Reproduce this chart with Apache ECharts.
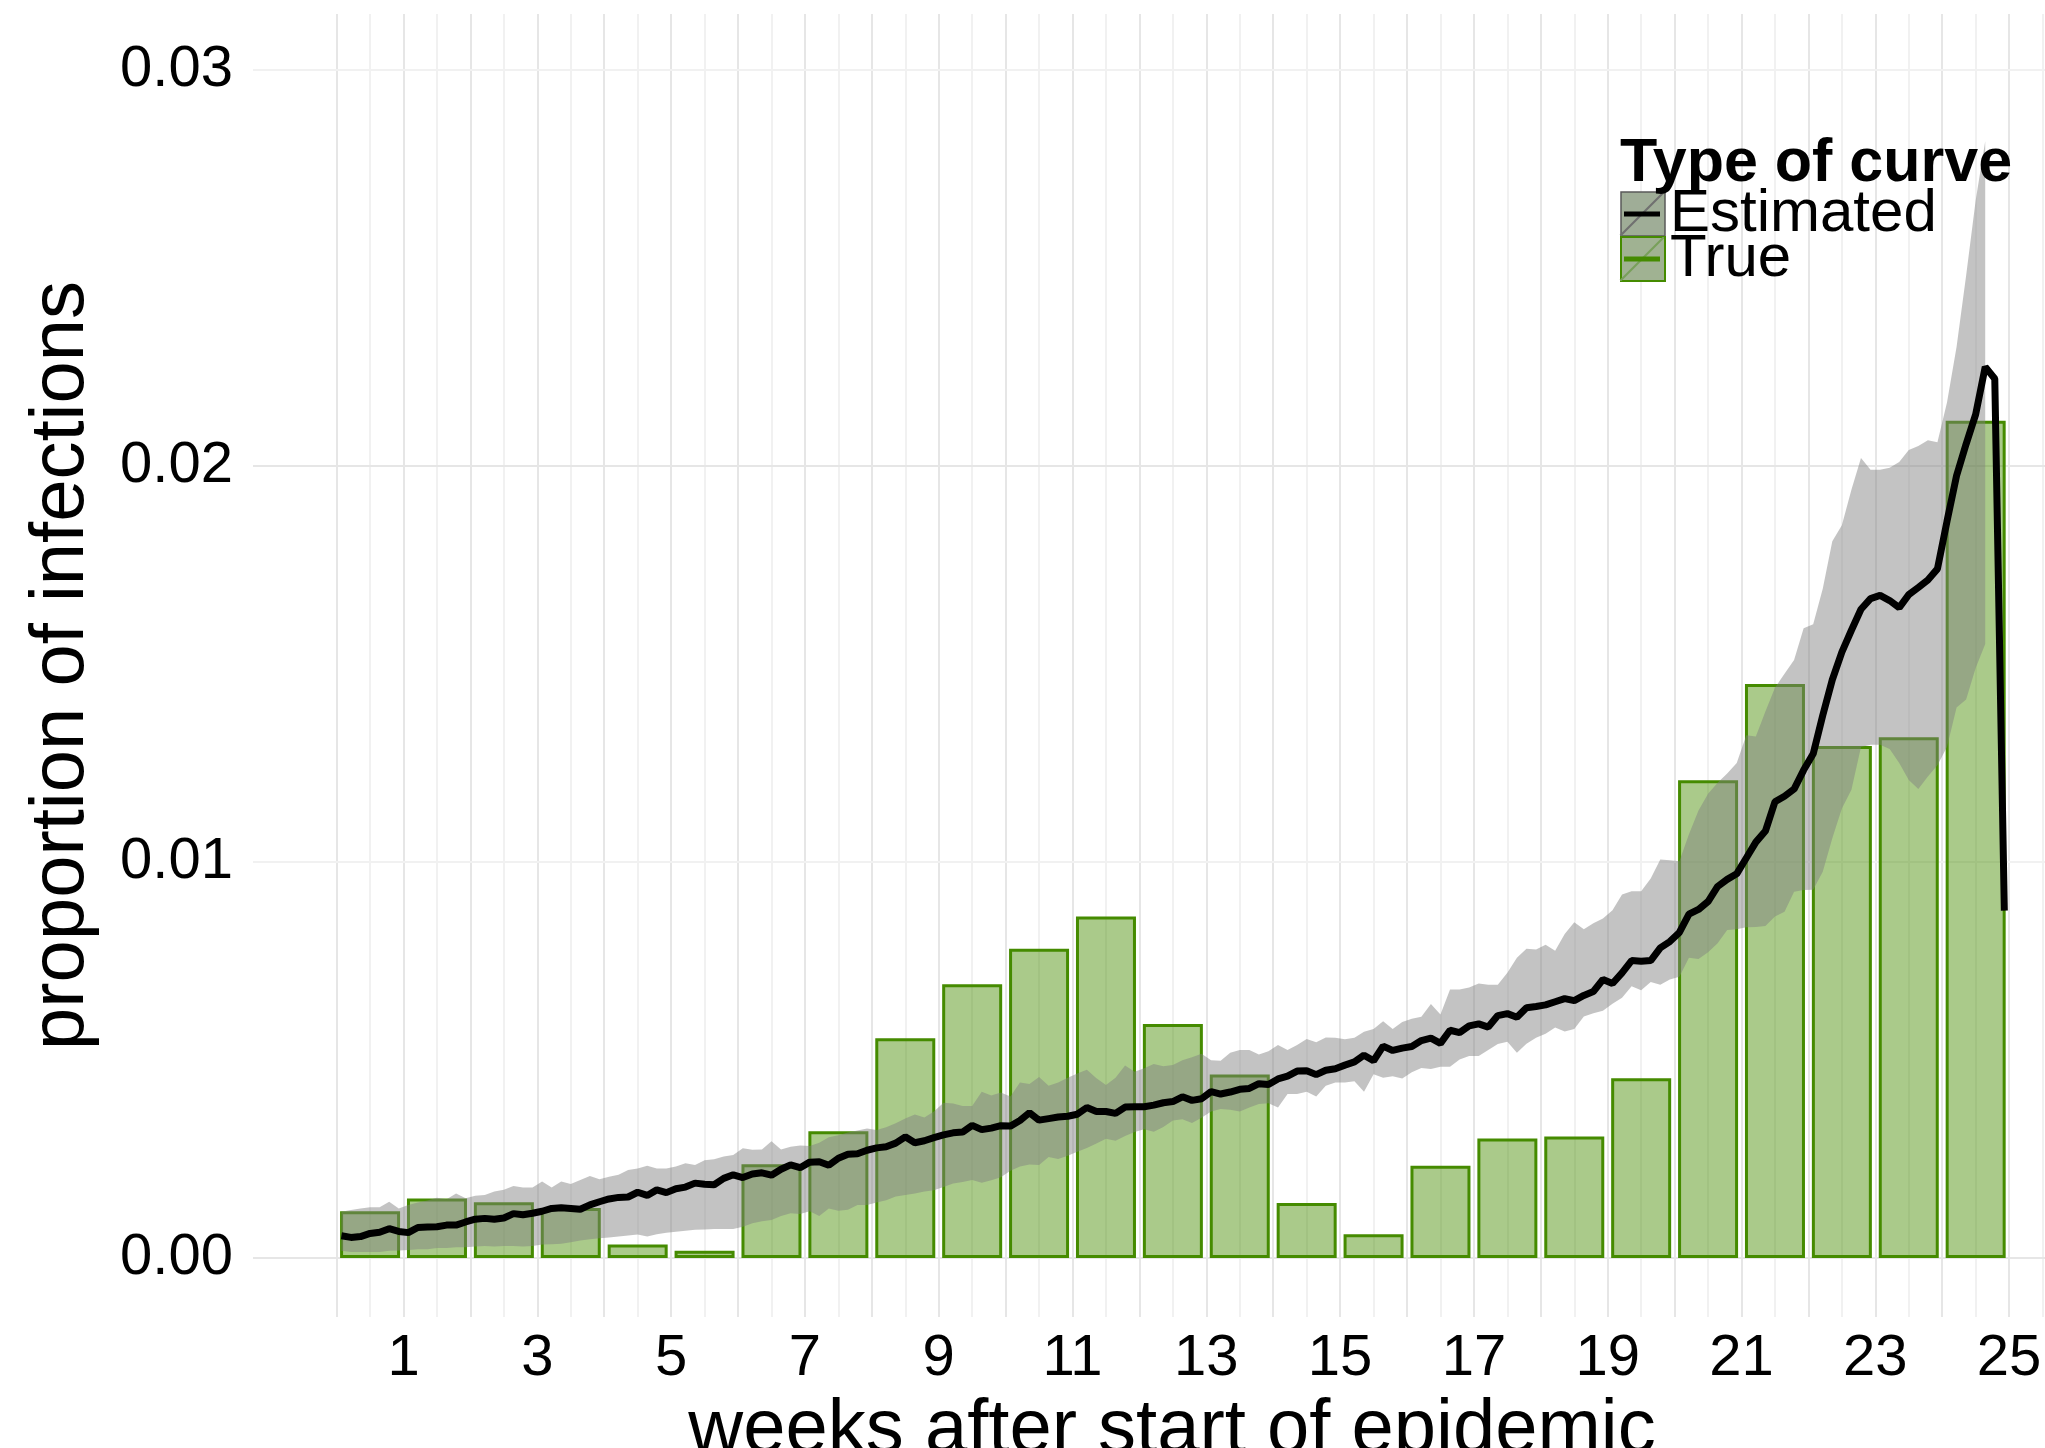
<!DOCTYPE html>
<html>
<head>
<meta charset="utf-8">
<title>Type of curve</title>
<script src="https://cdn.jsdelivr.net/npm/echarts@6/dist/echarts.min.js"></script>
<style>
  html, body { margin: 0; padding: 0; background: #ffffff; }
  #chart { width: 2045px; height: 1448px; }
</style>
</head>
<body>
<div id="chart"></div>
<script>
const FONT = '"Liberation Sans", Arial, Helvetica, sans-serif';

//weekly true proportions (x 1e-3), bar for week w sits at w - 0.5
const trueWeeks = [1, 2, 3, 4, 5, 6, 7, 8, 9, 10, 11, 12, 13, 14, 15, 16, 17, 18, 19, 20, 21, 22, 23, 24, 25];
const trueProp = [1.18, 1.50, 1.41, 1.26, 0.34, 0.18, 2.37, 3.20, 5.55, 6.91, 7.81, 8.62, 5.91, 4.63, 1.39,
    0.60, 2.33, 3.02, 3.07, 4.54, 12.06, 14.49, 12.93, 13.15, 21.14];

//daily estimate (x 1e-3), day d is drawn at week (d + 0.5) / 7
const estMean = [
    0.56, 0.52, 0.54, 0.62, 0.65, 0.74, 0.67, 0.64, 0.77, 0.78,
    0.79, 0.83, 0.83, 0.91, 0.98, 1.00, 0.98, 1.01, 1.12, 1.09,
    1.13, 1.18, 1.25, 1.27, 1.25, 1.23, 1.34, 1.42, 1.49, 1.53,
    1.54, 1.66, 1.58, 1.72, 1.65, 1.75, 1.79, 1.89, 1.86, 1.85,
    2.01, 2.10, 2.03, 2.12, 2.15, 2.09, 2.24, 2.35, 2.28, 2.42,
    2.43, 2.34, 2.52, 2.62, 2.63, 2.72, 2.78, 2.81, 2.90, 3.06,
    2.91, 2.96, 3.04, 3.11, 3.16, 3.18, 3.35, 3.24, 3.28, 3.34,
    3.33, 3.47, 3.67, 3.48, 3.52, 3.56, 3.58, 3.63, 3.80, 3.70,
    3.70, 3.65, 3.81, 3.82, 3.82, 3.86, 3.92, 3.95, 4.07, 3.98,
    4.02, 4.20, 4.14, 4.19, 4.26, 4.28, 4.40, 4.38, 4.52, 4.59,
    4.72, 4.73, 4.63, 4.74, 4.78, 4.87, 4.95, 5.12, 4.98, 5.35,
    5.24, 5.30, 5.34, 5.49, 5.55, 5.42, 5.75, 5.69, 5.86, 5.91,
    5.83, 6.12, 6.17, 6.08, 6.32, 6.35, 6.39, 6.47, 6.55, 6.50,
    6.63, 6.73, 7.03, 6.93, 7.20, 7.51, 7.49, 7.51, 7.83, 7.99,
    8.22, 8.68, 8.80, 9.00, 9.38, 9.56, 9.70, 10.10, 10.50, 10.78,
    11.52, 11.66, 11.84, 12.32, 12.73, 13.70, 14.60, 15.30, 15.85, 16.38,
    16.65, 16.73, 16.60, 16.42, 16.75, 16.93, 17.12, 17.40, 18.60, 19.75,
    20.55, 21.30, 22.50, 22.20, 8.77
];
const estUpper = [
    1.17, 1.21, 1.25, 1.28, 1.28, 1.42, 1.25, 1.34, 1.40, 1.45,
    1.52, 1.48, 1.63, 1.51, 1.57, 1.59, 1.68, 1.72, 1.82, 1.78,
    1.78, 1.93, 1.78, 1.93, 1.87, 1.97, 2.07, 1.99, 2.05, 2.10,
    2.22, 2.26, 2.33, 2.26, 2.26, 2.31, 2.39, 2.35, 2.47, 2.49,
    2.56, 2.60, 2.77, 2.73, 2.74, 2.95, 2.74, 2.81, 2.84, 2.83,
    2.91, 3.05, 3.10, 3.17, 3.22, 3.27, 3.23, 3.30, 3.40, 3.52,
    3.62, 3.55, 3.70, 3.92, 3.90, 3.84, 3.84, 4.20, 4.10, 4.18,
    4.08, 4.43, 4.39, 4.57, 4.35, 4.43, 4.55, 4.66, 4.75, 4.54,
    4.37, 4.55, 4.86, 4.70, 4.79, 4.90, 4.84, 4.87, 4.99, 5.07,
    5.16, 4.99, 4.98, 5.18, 5.25, 5.25, 5.14, 5.22, 5.38, 5.25,
    5.38, 5.53, 5.45, 5.57, 5.56, 5.52, 5.56, 5.71, 5.78, 5.98,
    5.78, 5.96, 6.04, 6.09, 6.41, 6.15, 6.78, 6.78, 6.83, 6.93,
    6.90, 6.90, 7.20, 7.58, 7.81, 7.79, 7.91, 7.76, 8.18, 8.48,
    8.30, 8.45, 8.57, 8.78, 9.18, 9.26, 9.26, 9.58, 10.06, 10.04,
    10.02, 10.70, 11.30, 11.72, 12.00, 12.23, 12.50, 13.20, 13.17, 13.80,
    14.40, 14.75, 15.10, 15.90, 16.00, 16.90, 18.10, 18.50, 19.40, 20.20,
    19.90, 19.90, 19.95, 20.10, 20.40, 20.50, 20.65, 20.60, 21.60, 23.00,
    24.80, 26.70, 28.20
];
const estLower = [
    0.18, 0.15, 0.15, 0.15, 0.15, 0.18, 0.19, 0.20, 0.22, 0.22,
    0.25, 0.25, 0.27, 0.27, 0.29, 0.30, 0.29, 0.30, 0.30, 0.29,
    0.30, 0.34, 0.35, 0.36, 0.40, 0.44, 0.47, 0.50, 0.52, 0.54,
    0.57, 0.59, 0.54, 0.60, 0.64, 0.66, 0.69, 0.71, 0.72, 0.73,
    0.73, 0.73, 0.79, 0.88, 0.93, 0.96, 1.06, 1.13, 1.11, 1.18,
    1.06, 1.25, 1.19, 1.22, 1.34, 1.34, 1.40, 1.46, 1.55, 1.59,
    1.63, 1.68, 1.71, 1.79, 1.88, 1.92, 1.97, 1.90, 1.96, 2.04,
    2.20, 2.31, 2.36, 2.35, 2.55, 2.50, 2.58, 2.68, 2.78, 2.89,
    3.01, 2.96, 3.08, 3.18, 3.25, 3.19, 3.31, 3.47, 3.50, 3.41,
    3.54, 3.70, 3.76, 3.74, 3.70, 3.80, 3.89, 3.91, 3.80, 4.14,
    4.14, 4.20, 4.08, 4.35, 4.43, 4.43, 4.46, 4.20, 4.64, 4.55,
    4.59, 4.53, 4.69, 4.80, 4.77, 4.83, 4.83, 5.01, 5.10, 5.10,
    5.25, 5.40, 5.46, 5.18, 5.41, 5.56, 5.66, 5.82, 5.72, 5.78,
    6.10, 6.18, 6.24, 6.42, 6.57, 6.86, 6.76, 6.97, 6.90, 7.03,
    7.10, 7.58, 7.55, 7.72, 7.95, 8.28, 8.30, 8.35, 8.36, 8.38,
    8.62, 8.74, 9.25, 9.29, 9.30, 9.75, 10.60, 11.35, 11.82, 12.90,
    12.96, 12.96, 12.85, 12.50, 12.07, 11.84, 12.16, 12.44, 12.90, 13.90,
    14.10, 14.90, 15.50
];

//axis ticks and labels
const xTickWeeks = [1, 2, 3, 4, 5, 6, 7, 8, 9, 10, 11, 12, 13, 14, 15, 16, 17, 18, 19, 20, 21, 22, 23, 24, 25];
const xLabelWeeks = [1, 3, 5, 7, 9, 11, 13, 15, 17, 19, 21, 23, 25];
const yTicks = [0, 0.01, 0.02, 0.03];
//background grid
const xMajorGrid = [0, 1, 2, 3, 4, 5, 6, 7, 8, 9, 10, 11, 12, 13, 14, 15, 16, 17, 18, 19, 20, 21, 22, 23, 24, 25];
const xMinorGrid = [0.5, 1.5, 2.5, 3.5, 4.5, 5.5, 6.5, 7.5, 8.5, 9.5, 10.5, 11.5, 12.5, 13.5, 14.5, 15.5, 16.5,
    17.5, 18.5, 19.5, 20.5, 21.5, 22.5, 23.5, 24.5, 25.5];
const yMajorGrid = [0, 0.01, 0.02, 0.03];
const yMinorGrid = [0.005, 0.015, 0.025];

const chart = echarts.init(document.getElementById('chart'), null, { renderer: 'canvas' });

//日序号转为周
function dayToWeek(d) {
    return (d + 0.5) / 7;
}

//构造网格线
function gridLines() {
    var major = { color: '#e6e6e6', width: 2, type: 'solid' };
    var minor = { color: '#f1f1f1', width: 2, type: 'solid' };
    var lines = [];
    for (var i = 0; i < xMajorGrid.length; i++) {
        lines.push({ xAxis: xMajorGrid[i], lineStyle: major });
    }
    for (var i = 0; i < xMinorGrid.length; i++) {
        lines.push({ xAxis: xMinorGrid[i], lineStyle: minor });
    }
    for (var i = 0; i < yMajorGrid.length; i++) {
        lines.push({ yAxis: yMajorGrid[i], lineStyle: major });
    }
    for (var i = 0; i < yMinorGrid.length; i++) {
        lines.push({ yAxis: yMinorGrid[i], lineStyle: minor });
    }
    return lines;
}

const barData = trueWeeks.map(function (w, i) {
    return [w - 0.5, trueProp[i] / 1000];
});
const meanData = estMean.map(function (v, d) {
    return [dayToWeek(d), v / 1000];
});
const bandData = estUpper.map(function (v, d) {
    return [dayToWeek(d), estLower[d] / 1000, v / 1000];
});

//置信带
function renderBand(params, api) {
    if (params.dataIndex !== 0) {
        return null;
    }
    var pts = [];
    for (var i = 0; i < bandData.length; i++) {
        pts.push(api.coord([bandData[i][0], bandData[i][2]]));
    }
    for (var i = bandData.length - 1; i >= 0; i--) {
        pts.push(api.coord([bandData[i][0], bandData[i][1]]));
    }
    return {
        type: 'polygon',
        shape: { points: pts },
        style: { fill: 'rgba(127,127,127,0.47)' }
    };
}

const legendBase = {
    orient: 'vertical',
    left: 1620,
    top: 184,
    itemWidth: 44,
    itemHeight: 44,
    itemGap: -15,
    padding: 0,
    selectedMode: false,
    textStyle: { fontSize: 60, lineHeight: 44, color: '#000', fontFamily: FONT }
};
const hiddenText = { fontSize: 60, lineHeight: 44, color: 'rgba(0,0,0,0)', fontFamily: FONT };

const option = {
    animation: false,
    backgroundColor: '#ffffff',
    textStyle: { fontFamily: FONT },
    title: {
        text: 'Type of curve',
        left: 1620,
        top: 134,
        padding: 0,
        textStyle: { fontSize: 61, fontWeight: 'bold', color: '#000', fontFamily: FONT }
    },
    legend: [
        Object.assign({}, legendBase, {
            data: [
                { name: 'Estimated', icon: 'rect', itemStyle: { color: '#9fad97', borderColor: '#5a5a5a', borderWidth: 1.5 } },
                { name: 'True', icon: 'rect', itemStyle: { color: '#a0b292', borderColor: '#458B00', borderWidth: 2 } }
            ]
        }),
        Object.assign({}, legendBase, {
            textStyle: hiddenText,
            data: [
                { name: 'Estimated', icon: 'path://M0,44 L0,42.5 L42.5,0 L44,0 L44,1.5 L1.5,44 Z', itemStyle: { color: '#707070', borderWidth: 0 } },
                { name: 'True', icon: 'path://M0,44 L0,42.5 L42.5,0 L44,0 L44,1.5 L1.5,44 Z', itemStyle: { color: '#78a05a', borderWidth: 0 } }
            ]
        }),
        Object.assign({}, legendBase, {
            textStyle: hiddenText,
            data: [
                { name: 'Estimated', icon: 'path://M0,0 L0.1,0 L0,0.1 Z M44,44 L43.9,44 L44,43.9 Z M4,19.5 L40,19.5 L40,24.5 L4,24.5 Z', itemStyle: { color: '#000', borderWidth: 0 } },
                { name: 'True', icon: 'path://M0,0 L0.1,0 L0,0.1 Z M44,44 L43.9,44 L44,43.9 Z M4,19.5 L40,19.5 L40,24.5 L4,24.5 Z', itemStyle: { color: '#458B00', borderWidth: 0 } }
            ]
        })
    ],
    grid: {
        left: 253,
        top: 14,
        width: 1838,
        height: 1303,
        containLabel: false,
        outerBoundsMode: 'none'
    },
    xAxis: {
        type: 'value',
        min: -1.25,
        max: 26.224,
        name: 'weeks after start of epidemic',
        nameLocation: 'middle',
        nameGap: 59,
        nameTextStyle: { fontSize: 76, color: '#000', fontFamily: FONT },
        axisLine: { show: false },
        axisTick: { show: true, customValues: xTickWeeks, length: 10, lineStyle: { color: '#333', width: 2 } },
        axisLabel: { customValues: xLabelWeeks, fontSize: 58, color: '#000', margin: 13, fontFamily: FONT },
        splitLine: { show: false }
    },
    yAxis: {
        type: 'value',
        min: -0.00149,
        max: 0.03141,
        name: 'proportion of infections',
        nameLocation: 'middle',
        nameGap: 153,
        nameTextStyle: { fontSize: 76, color: '#000', fontFamily: FONT },
        axisLine: { show: false },
        axisTick: { show: true, customValues: yTicks, length: 10, lineStyle: { color: '#333', width: 2 } },
        axisLabel: {
            customValues: yTicks, fontSize: 58, color: '#000', margin: 20, fontFamily: FONT,
            formatter: function (v) { return v.toFixed(2); }
        },
        splitLine: { show: false }
    },
    series: [
        {
            name: 'grid',
            type: 'line',
            z: 1,
            data: [],
            silent: true,
            markLine: {
                silent: true,
                symbol: ['none', 'none'],
                label: { show: false },
                z: 1,
                data: gridLines()
            }
        },
        {
            name: 'True',
            type: 'bar',
            z: 2,
            barWidth: 60,
            data: barData,
            itemStyle: { color: 'rgba(69,139,0,0.46)', borderColor: '#458B00', borderWidth: 3 }
        },
        {
            name: 'Estimated',
            type: 'custom',
            z: 3,
            data: bandData,
            renderItem: renderBand,
            silent: true
        },
        {
            name: 'Estimated',
            type: 'line',
            z: 4,
            data: meanData,
            showSymbol: false,
            symbol: 'none',
            lineStyle: { color: '#000', width: 7 },
            itemStyle: { color: '#000' }
        }
    ]
};

chart.setOption(option);
</script>
</body>
</html>
